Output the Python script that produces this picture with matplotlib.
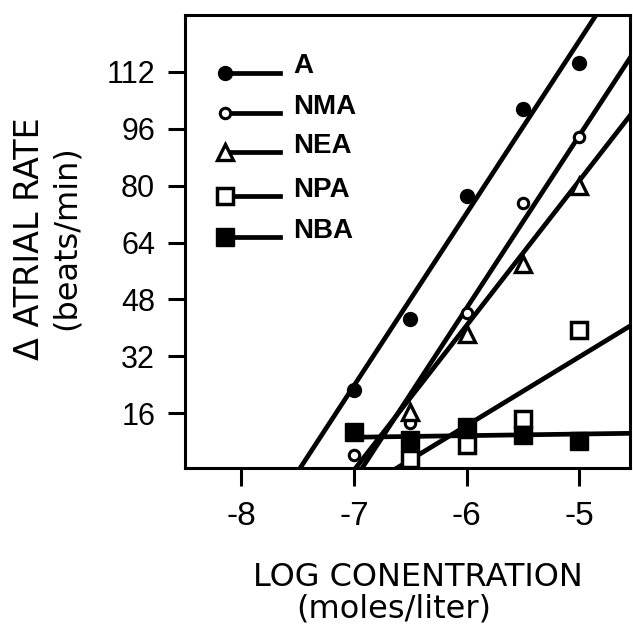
import matplotlib
matplotlib.use("Agg")
import matplotlib.pyplot as plt
import numpy as np

# ---- data ----
log_conc = [-7.0, -6.5, -6.0, -5.5, -5.0]
a_vals = [22.5, 42.5, 77.0, 101.5, 114.5]
nma_vals = [4.2, 13.3, 44.3, 75.0, 93.7]
nea_x = [-6.5, -6.0, -5.5, -5.0]
nea_vals = [16.3, 38.3, 58.0, 80.0]
npa_x = [-6.5, -6.0, -5.5, -5.0]
npa_vals = [3.2, 7.0, 14.3, 39.3]
nba_vals = [10.8, 8.4, 12.2, 9.8, 8.2]

# fitted lines: (start x, slope, value at x=-6)
fit_a = (-7.49, 48.5, 48.5 * 1.49)
fit_nma = (-6.94, 48.5, 48.5 * 0.94)
fit_nea = (-7.00, 40.7, 40.7 * 1.00)
fit_npa = (-6.65, 19.3, 19.3 * 0.65)
fit_nba = (-7.08, 0.45, 9.7)

x_ticks = [-8, -7, -6, -5]
y_ticks = [16, 32, 48, 64, 80, 96, 112]
labels = ["A", "NMA", "NEA", "NPA", "NBA"]

fig = plt.figure(figsize=(6.33, 6.24), dpi=100)
W, H = 633, 624
ax = fig.add_axes([185 / W, 1 - 468 / H, 445 / W, 453 / H])
ax.set_xlim(-8.5, -4.55)
ax.set_ylim(0.6, 128)

lw = 3.4
def fit_line(fit):
    x0, m, b = fit
    xs = np.array([x0, -4.0])
    ax.plot(xs, b + m * (xs + 6.0), color="black", lw=lw, solid_capstyle="butt", zorder=2)

for f in (fit_a, fit_nma, fit_nea, fit_npa, fit_nba):
    fit_line(f)

styles = {
    "A": dict(marker="o", ms=10, mfc="black", mec="black", mew=1),
    "NMA": dict(marker="o", ms=7.5, mfc="white", mec="black", mew=2.2),
    "NEA": dict(marker="^", ms=11, mfc="white", mec="black", mew=2.4),
    "NPA": dict(marker="s", ms=11.5, mfc="white", mec="black", mew=2.5),
    "NBA": dict(marker="s", ms=12.5, mfc="black", mec="black", mew=1),
}
series = {
    "A": (log_conc, a_vals),
    "NMA": (log_conc, nma_vals),
    "NEA": (nea_x, nea_vals),
    "NPA": (npa_x, npa_vals),
    "NBA": (log_conc, nba_vals),
}
for name in labels:
    xs, ys = series[name]
    ax.plot(xs, ys, linestyle="none", zorder=3, **styles[name])

# legend drawn manually (marker at left end of a line)
leg_y = [0.873, 0.783, 0.697, 0.600, 0.510]
for name, yy in zip(labels, leg_y):
    ax.plot([0.090, 0.213], [yy, yy], color="black", lw=lw, transform=ax.transAxes, zorder=3)
    ax.plot([0.090], [yy], transform=ax.transAxes, zorder=4, **styles[name])
    ax.text(0.243, yy + 0.014, name, transform=ax.transAxes, fontsize=20,
            fontweight="bold", family="Liberation Sans", va="center", ha="left")

ax.set_xticks(x_ticks)
ax.set_xticklabels([f"-{abs(v)}" for v in x_ticks], family="Liberation Sans", fontsize=24)
ax.set_yticks(y_ticks)
ax.set_yticklabels([str(v) for v in y_ticks], family="Liberation Sans", fontsize=22)
ax.tick_params(axis="x", direction="out", length=13, width=2.2, pad=11)
ax.tick_params(axis="y", direction="out", length=12.5, width=2.2, pad=9)
for s in ax.spines.values():
    s.set_linewidth(2.2)

fig.text(30 / W, 1 - 239 / H, "\u0394 ATRIAL RATE", rotation=90, ha="center", va="center",
         family="DejaVu Sans", fontsize=24)
fig.text(66 / W, 1 - 238 / H, "(beats/min)", rotation=90, ha="center", va="center",
         family="DejaVu Sans", fontsize=23)
fig.text(418 / W, 1 - 577 / H, "LOG CONENTRATION", ha="center", va="center",
         family="DejaVu Sans", fontsize=23)
fig.text(394 / W, 1 - 609 / H, "(moles/liter)", ha="center", va="center",
         family="DejaVu Sans", fontsize=23)

fig.savefig("out.png", dpi=100)
